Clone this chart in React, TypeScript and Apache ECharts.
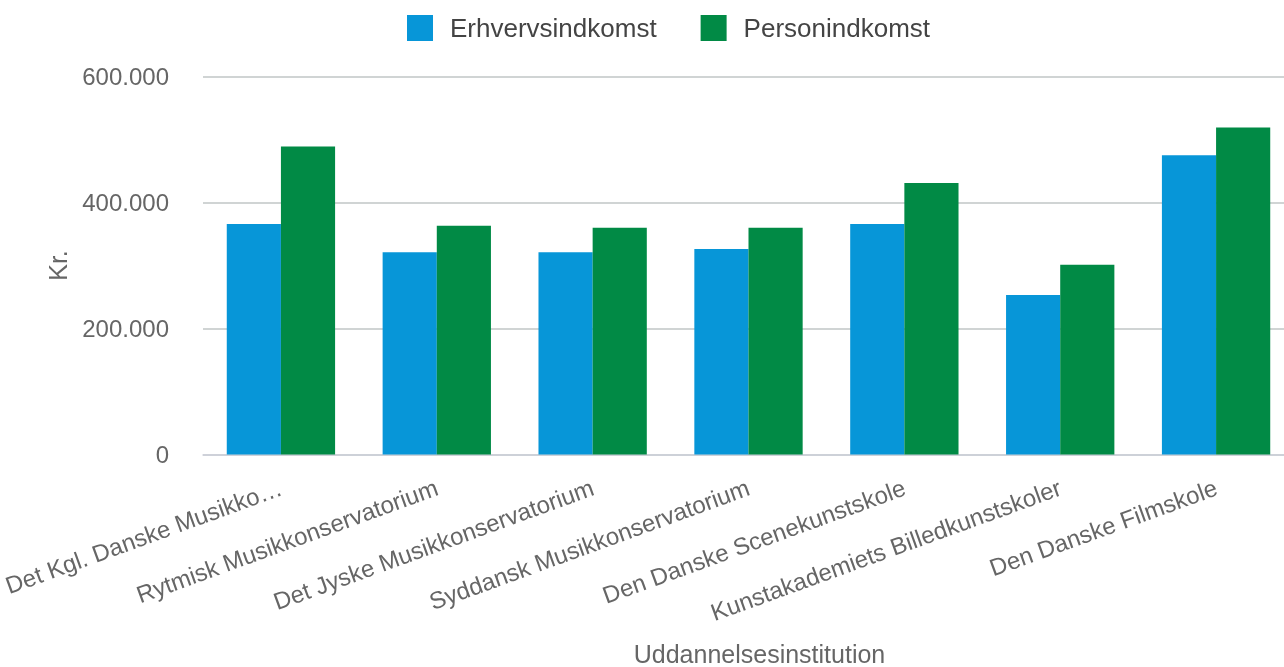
import React, { useEffect, useRef } from "react";
import * as echarts from "echarts";

const categories = [
  "Det Kgl. Danske Musikko…",
  "Rytmisk Musikkonservatorium",
  "Det Jyske Musikkonservatorium",
  "Syddansk Musikkonservatorium",
  "Den Danske Scenekunstskole",
  "Kunstakademiets Billedkunstskoler",
  "Den Danske Filmskole",
];
const erhvervsindkomst = [366000, 321000, 321000, 326000, 366000, 253000, 475000];
const personindkomst = [489000, 363000, 360000, 360000, 431000, 301000, 519000];
const seriesNames = ["Erhvervsindkomst", "Personindkomst"];
const yTicks = [0, 200000, 400000, 600000];

const FONT = "'Liberation Sans', Arial, Helvetica, sans-serif";

function fmt(v: number): string {
  return String(Math.round(v)).replace(/\B(?=(\d{3})+(?!\d))/g, ".");
}

export default function App() {
  const ref = useRef<HTMLDivElement>(null);
  useEffect(() => {
    if (!ref.current) return;
    const chart = echarts.init(ref.current, undefined, { renderer: "svg" });
    chart.setOption({
      animation: false,
      textStyle: { fontFamily: FONT },
      color: ["#0796d8", "#018a45"],
      legend: {
        data: seriesNames,
        left: 407,
        top: 15,
        padding: 0,
        icon: "rect",
        itemWidth: 26,
        itemHeight: 26,
        itemGap: 44,
        textStyle: {
          fontFamily: FONT,
          fontSize: 26,
          color: "#444444",
          padding: [0, 0, 0, 12],
        },
      },
      grid: {
        left: 203,
        right: -10,
        top: 76.5,
        bottom: 212.5,
        containLabel: false,
        outerBoundsMode: "none",
      },
      xAxis: {
        type: "category",
        data: categories,
        name: "Uddannelsesinstitution",
        nameLocation: "middle",
        nameGap: 187,
        nameTextStyle: {
          fontFamily: FONT,
          fontSize: 25,
          color: "#666666",
          padding: [0, 0, 0, 22],
        },
        axisLine: { show: true, lineStyle: { color: "#cdd0da", width: 1.5 } },
        axisTick: { show: false },
        axisLabel: {
          interval: 0,
          rotate: 20,
          margin: 32,
          fontFamily: FONT,
          fontSize: 24,
          color: "#666666",
        },
      },
      yAxis: {
        type: "value",
        min: 0,
        max: 600000,
        interval: 200000,
        name: "Kr.",
        nameLocation: "middle",
        nameGap: 133,
        nameTextStyle: { fontFamily: FONT, fontSize: 25, color: "#666666" },
        axisLine: { show: false },
        axisTick: { show: false },
        splitLine: { lineStyle: { color: "#c0c6c6", width: 1.5 } },
        axisLabel: {
          margin: 34,
          fontFamily: FONT,
          fontSize: 24,
          color: "#666666",
          formatter: (v: number) => (yTicks.includes(v) ? fmt(v) : ""),
        },
      },
      series: [
        {
          name: seriesNames[0],
          type: "bar",
          data: erhvervsindkomst,
          barGap: "0%",
          barCategoryGap: "30.5%",
        },
        {
          name: seriesNames[1],
          type: "bar",
          data: personindkomst,
          barGap: "0%",
          barCategoryGap: "30.5%",
        },
      ],
    });
    return () => chart.dispose();
  }, []);
  return (
    <div
      ref={ref}
      style={{ position: "fixed", left: 0, top: 0, width: 1284, height: 667 }}
    />
  );
}
